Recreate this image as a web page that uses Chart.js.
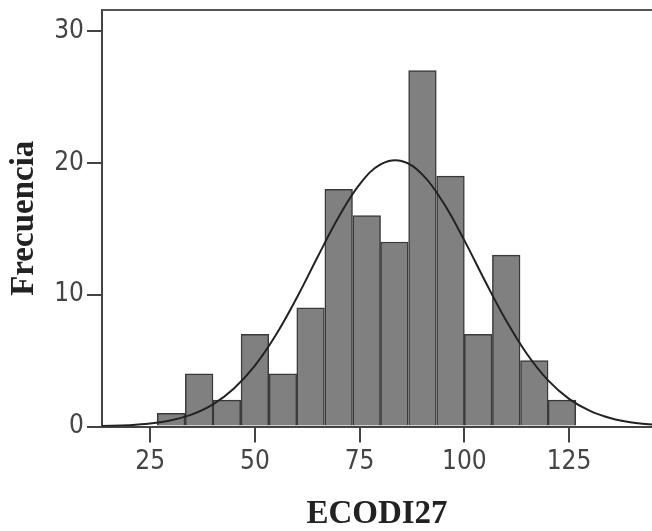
<!DOCTYPE html>
<html>
<head>
<meta charset="utf-8">
<script src="https://cdn.jsdelivr.net/npm/chart.js@4"></script>
<style>
    html, body { margin: 0; padding: 0; background: #ffffff; }
    #wrap { width: 652px; height: 531px; }
</style>
</head>
<body>
<div id="wrap"><canvas id="histChart" width="652" height="531"></canvas></div>
<script>
// Histograma ECODI27 con curva normal
// bin midpoints and frequencies
const binCenters = [30, 36.7, 43.3, 50, 56.7, 63.3, 70, 76.7, 83.3, 90, 96.7, 103.3, 110, 116.7, 123.3];
const frequencies = [1, 4, 2, 7, 4, 9, 18, 16, 14, 27, 19, 7, 13, 5, 2];

// normal curve
const curveX = [13.5, 20, 25, 30, 35, 40, 45, 50, 55, 60, 65, 70, 75, 80, 85, 90, 95, 100, 105, 110, 115, 120, 125, 130, 135, 140, 145];
const curveY = [0.04, 0.1, 0.22, 0.47, 0.92, 1.68, 2.88, 4.62, 6.94, 9.77, 12.88, 15.89, 18.37, 19.88, 20.14, 19.11, 16.97, 14.12, 11.0, 8.03, 5.48, 3.5, 2.1, 1.18, 0.62, 0.3, 0.14];

const xTicks = [25, 50, 75, 100, 125];
const yTicks = [0, 10, 20, 30];

const xTitle = 'ECODI27';
const yTitle = 'Frecuencia';

const tickFont = { family: '"Liberation Sans Narrow", "DejaVu Sans Condensed", "Arial Narrow", sans-serif', size: 26 };
const titleFont = { family: '"Liberation Serif", "DejaVu Serif", serif', size: 33, weight: 'bold', lineHeight: 1 };

// top frame line
const topBorder = {
    id: 'topBorder',
    afterDraw(chart) {
        const { ctx, chartArea } = chart;
        ctx.save();
        ctx.strokeStyle = '#555';
        ctx.lineWidth = 2;
        ctx.beginPath();
        ctx.moveTo(chartArea.left, chartArea.top);
        ctx.lineTo(chartArea.right, chartArea.top);
        ctx.stroke();
        ctx.restore();
    }
};

new Chart(document.getElementById('histChart').getContext('2d'), {
    type: 'bar',
    data: {
        datasets: [
            {
                type: 'line',
                data: curveX.map((x, i) => ({ x: x, y: curveY[i] })),
                borderColor: '#222',
                borderWidth: 2,
                pointRadius: 0,
                tension: 0.4,
                fill: false,
                order: 0
            },
            {
                type: 'bar',
                data: binCenters.map((x, i) => ({ x: x, y: frequencies[i] })),
                backgroundColor: '#808080',
                borderColor: '#3a3a3a',
                borderWidth: 1.5,
                barPercentage: 1,
                categoryPercentage: 1,
                order: 1
            }
        ]
    },
    plugins: [topBorder],
    options: {
        responsive: false,
        animation: false,
        layout: { padding: { top: 10, left: 0, right: 0, bottom: 0 } },
        plugins: { legend: { display: false }, tooltip: { enabled: false } },
        scales: {
            x: {
                type: 'linear',
                min: 13.5,
                max: 144.8,
                offset: false,
                afterBuildTicks: s => { s.ticks = xTicks.map(v => ({ value: v })); },
                afterFit: s => { s.height = 104.5; },
                grid: { display: true, offset: false, drawOnChartArea: false, drawTicks: true, tickLength: 16, color: '#444', lineWidth: 2 },
                border: { display: true, color: '#444', width: 2 },
                ticks: { color: '#444', font: tickFont, padding: 4, maxRotation: 0 },
                title: { display: true, text: xTitle, color: '#222', font: titleFont, padding: { top: 0, bottom: 0 } }
            },
            y: {
                min: 0,
                max: 31.6,
                afterBuildTicks: s => { s.ticks = yTicks.map(v => ({ value: v })); },
                afterFit: s => { s.width = 102; s.paddingTop = 0; s.paddingBottom = 0; },
                grid: { display: true, drawOnChartArea: false, drawTicks: true, tickLength: 15, color: '#444', lineWidth: 2 },
                border: { display: true, color: '#444', width: 2 },
                ticks: { color: '#444', font: tickFont, padding: 3 },
                title: { display: true, text: yTitle, color: '#222', font: titleFont, padding: { top: 8, bottom: 0 } }
            }
        }
    }
});
</script>
</body>
</html>
